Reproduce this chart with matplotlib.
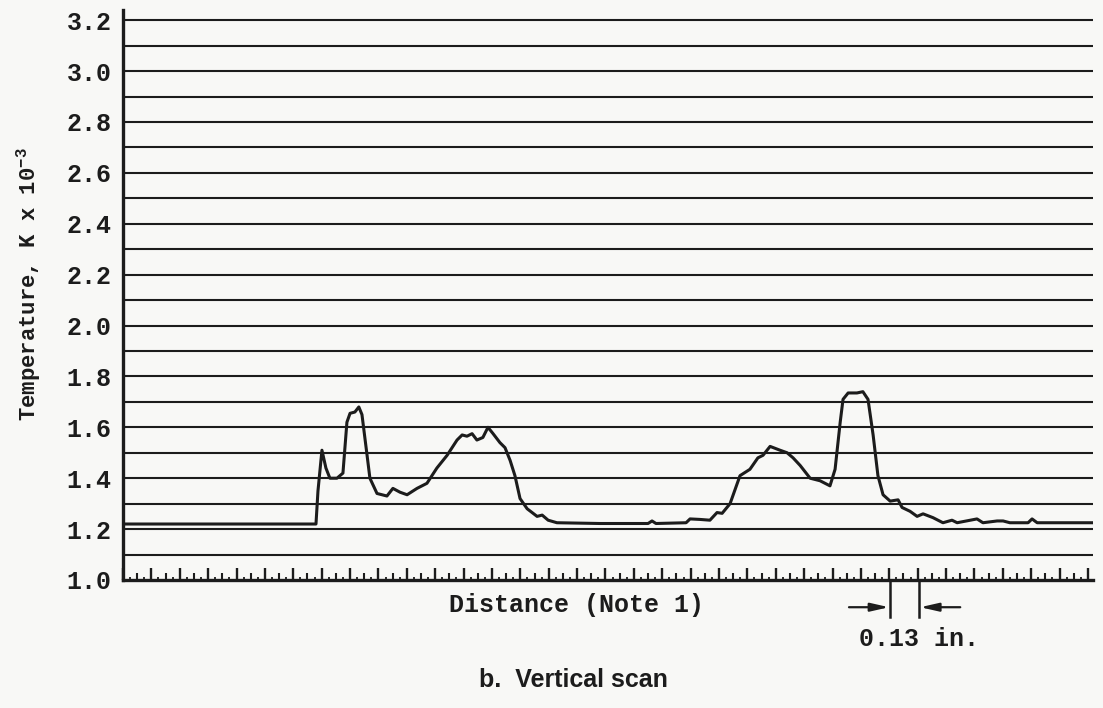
import matplotlib
matplotlib.use("Agg")
import matplotlib.pyplot as plt
import numpy as np

# distance in tick units (one major division = 0.13 in.)
distance = [0.00, 6.80, 6.87, 7.01, 7.15, 7.29, 7.54, 7.75, 7.89, 8.00, 8.17, 8.31,
            8.42, 8.60, 8.70, 8.95, 9.30, 9.51, 9.76, 10.01, 10.36, 10.71, 11.06,
            11.42, 11.77, 11.95, 12.12, 12.30, 12.47, 12.68, 12.86, 13.04, 13.28,
            13.46, 13.64, 13.81, 13.99, 14.24, 14.59, 14.77, 14.98, 15.29, 16.81,
            18.50, 18.64, 18.78, 19.84, 19.98, 20.33, 20.68, 20.93, 21.11, 21.39,
            21.74, 22.09, 22.37, 22.55, 22.80, 23.15, 23.40, 23.61, 23.86, 24.21,
            24.56, 24.91, 25.09, 25.27, 25.37, 25.55, 25.86, 26.07, 26.25, 26.43,
            26.60, 26.78, 27.03, 27.31, 27.45, 27.73, 27.98, 28.19, 28.54, 28.89,
            29.21, 29.39, 30.09, 30.30, 30.80, 31.01, 31.25, 31.89, 32.03, 32.21,
            34.18]
temperature = [1.22, 1.22, 1.35, 1.51, 1.44, 1.40, 1.40, 1.42, 1.62, 1.655, 1.66, 1.68,
               1.65, 1.49, 1.40, 1.34, 1.33, 1.36, 1.345, 1.335, 1.36, 1.38, 1.44,
               1.49, 1.55, 1.57, 1.565, 1.575, 1.55, 1.56, 1.60, 1.575, 1.54,
               1.52, 1.47, 1.41, 1.32, 1.28, 1.25, 1.255, 1.235, 1.225, 1.222,
               1.222, 1.232, 1.222, 1.225, 1.24, 1.238, 1.235, 1.265, 1.262, 1.30,
               1.41, 1.435, 1.48, 1.49, 1.525, 1.51, 1.50, 1.48, 1.45, 1.40,
               1.39, 1.37, 1.435, 1.62, 1.71, 1.735, 1.735, 1.74, 1.71, 1.57,
               1.41, 1.335, 1.31, 1.315, 1.285, 1.27, 1.25, 1.26, 1.245, 1.225,
               1.235, 1.225, 1.24, 1.225, 1.232, 1.232, 1.225, 1.225, 1.24, 1.225,
               1.225]

yticks = [1.0, 1.2, 1.4, 1.6, 1.8, 2.0, 2.2, 2.4, 2.6, 2.8, 3.0, 3.2]
scale_marks = [27.03, 28.05]  # the 0.13 in. reference span

ink = "#1c1c1c"
paper = "#f8f8f6"
mono = "Liberation Mono"

fig = plt.figure(figsize=(11.03, 7.08), dpi=100, facecolor=paper)
ax = fig.add_axes([0.1115, 0.1808, 0.8795, 0.8051])
ax.set_facecolor(paper)

ax.set_xlim(0, 34.18)
ax.set_ylim(1.0, 3.24)

# ruled horizontal lines every 0.1
for v in np.arange(1.1, 3.25, 0.1):
    ax.axhline(v, color=ink, lw=1.5, zorder=1)

ax.plot(distance, temperature, color=ink, lw=2.2, zorder=3,
        solid_joinstyle="round", solid_capstyle="round")

for s in ["top", "right"]:
    ax.spines[s].set_visible(False)
for s in ["left", "bottom"]:
    ax.spines[s].set_linewidth(2.4)
    ax.spines[s].set_color(ink)

ax.set_yticks(yticks)
ax.set_yticklabels([f"{v:.1f}" for v in yticks], fontfamily=mono,
                   fontweight="bold", fontsize=18, color=ink)
ax.tick_params(axis="y", length=0, pad=8)

ax.set_xticks(np.arange(0, 35, 1))
ax.set_xticks(np.arange(0.5, 34.2, 1), minor=True)
ax.tick_params(axis="x", which="major", direction="in", length=9, width=1.7,
               color=ink, labelbottom=False)
ax.tick_params(axis="x", which="minor", direction="in", length=5, width=1.5,
               color=ink)

sec = ax.secondary_xaxis("bottom")
sec.set_xticks(np.arange(0.25, 34.2, 0.5))
sec.tick_params(direction="in", length=2.5, width=1.3, color=ink,
                labelbottom=False)
sec.spines["bottom"].set_visible(False)

ax.set_ylabel("Temperature, K x 10$^{\\mathregular{-3}}$", fontfamily=mono,
              fontweight="bold", fontsize=16, color=ink)
ax.yaxis.set_label_coords(-0.082, 0.52)

ax.text(0.467, -0.044, "Distance (Note 1)", transform=ax.transAxes,
        ha="center", va="center", fontfamily=mono, fontweight="bold",
        fontsize=18, color=ink)

# 0.13 in. scale bar below the axis
for xm in scale_marks:
    ax.plot([xm, xm], [1.0, 0.856], color=ink, lw=1.8, clip_on=False)
ax.annotate("", xy=(scale_marks[0] - 0.04, 0.893), xytext=(scale_marks[0] - 1.45, 0.893),
            annotation_clip=False,
            arrowprops=dict(arrowstyle="-|>,head_length=1.1,head_width=0.25",
                            color=ink, lw=1.6, shrinkA=0, shrinkB=0))
ax.annotate("", xy=(scale_marks[1] + 0.04, 0.893), xytext=(scale_marks[1] + 1.45, 0.893),
            annotation_clip=False,
            arrowprops=dict(arrowstyle="-|>,head_length=1.1,head_width=0.25",
                            color=ink, lw=1.6, shrinkA=0, shrinkB=0))
ax.text(28.05, 0.769, "0.13 in.", ha="center", va="center", fontfamily=mono,
        fontweight="bold", fontsize=18, color=ink)

fig.text(0.52, 0.04, "b.  Vertical scan", ha="center", va="center",
         fontfamily="Liberation Sans", fontweight="bold", fontsize=18, color=ink)

fig.savefig("out.png", dpi=100, facecolor=paper)
